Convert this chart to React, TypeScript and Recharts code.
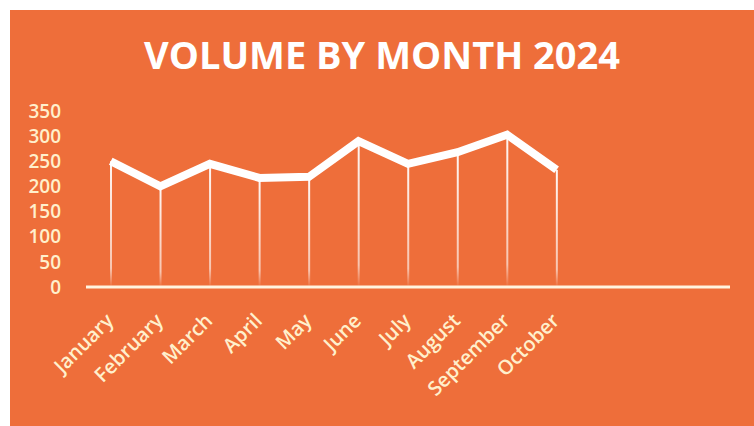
import { ComposedChart, Line, Bar, XAxis, YAxis } from "recharts";

const months = [
  "January",
  "February",
  "March",
  "April",
  "May",
  "June",
  "July",
  "August",
  "September",
  "October",
];
const volume = [250, 200, 245, 217, 219, 290, 245, 268, 303, 233];
const slotCount = 13; // the axis runs on past October with empty categories
const yTicks = [0, 50, 100, 150, 200, 250, 300, 350];

const data = Array.from({ length: slotCount }, (_, i) => ({
  idx: i,
  month: months[i] ?? "",
  volume: volume[i] ?? null,
}));

const BG = "#EE6E3A";
const CREAM = "#FFF0CC";
const FONT = "'Open Sans', sans-serif";

function MonthTick(props: any) {
  const { x, y, payload } = props;
  const label = data[payload.value]?.month ?? "";
  return (
    <g transform={`translate(${x + 4},${y + 27})`}>
      <text
        x={0}
        y={0}
        textAnchor="end"
        fill={CREAM}
        fontSize={20}
        fontWeight={600}
        fontFamily={FONT}
        transform="rotate(-45)"
      >
        {label}
      </text>
    </g>
  );
}

export default function App() {
  return (
    <div style={{ width: 754, height: 426, background: "#fff", position: "relative", overflow: "hidden" }}>
      <style>{`body{margin:0}`}</style>
      <div
        style={{
          position: "absolute",
          left: 10,
          top: 10,
          width: 744,
          height: 416,
          background: BG,
        }}
      >
        <div
          style={{
            position: "absolute",
            left: 0,
            width: 744,
            top: 19,
            textAlign: "center",
            color: "#fff",
            fontFamily: FONT,
            fontWeight: 700,
            fontSize: 38,
            lineHeight: "50px",
          }}
        >
          VOLUME BY MONTH 2024
        </div>
        <ComposedChart
          width={744}
          height={416}
          data={data}
          margin={{ top: 101, right: 24, left: 16, bottom: 39 }}
          barCategoryGap={0}
        >
          <defs>
            <linearGradient id="dropGrad" x1="0" y1="0" x2="0" y2="1">
              <stop offset="0%" stopColor="#fff" stopOpacity={0.95} />
              <stop offset="85%" stopColor="#fff" stopOpacity={0.6} />
              <stop offset="100%" stopColor="#fff" stopOpacity={0} />
            </linearGradient>
          </defs>
          <XAxis
            dataKey="idx"
            type="category"
            height={100}
            interval={0}
            tick={<MonthTick />}
            tickLine={false}
            axisLine={{ stroke: "#FFF4E0", strokeWidth: 3 }}
          />
          <YAxis
            domain={[0, 350]}
            ticks={yTicks}
            width={60}
            tickSize={0}
            tickMargin={25}
            axisLine={false}
            tickLine={false}
            tick={{ fill: CREAM, fontSize: 19, fontWeight: 600, fontFamily: FONT }}
            interval={0}
          />
          <Bar dataKey="volume" fill="url(#dropGrad)" barSize={2} isAnimationActive={false} />
          <Line
            dataKey="volume"
            stroke="#fff"
            strokeWidth={8}
            dot={false}
            activeDot={false}
            strokeLinejoin="miter"
            connectNulls={false}
            isAnimationActive={false}
          />
        </ComposedChart>
      </div>
    </div>
  );
}
